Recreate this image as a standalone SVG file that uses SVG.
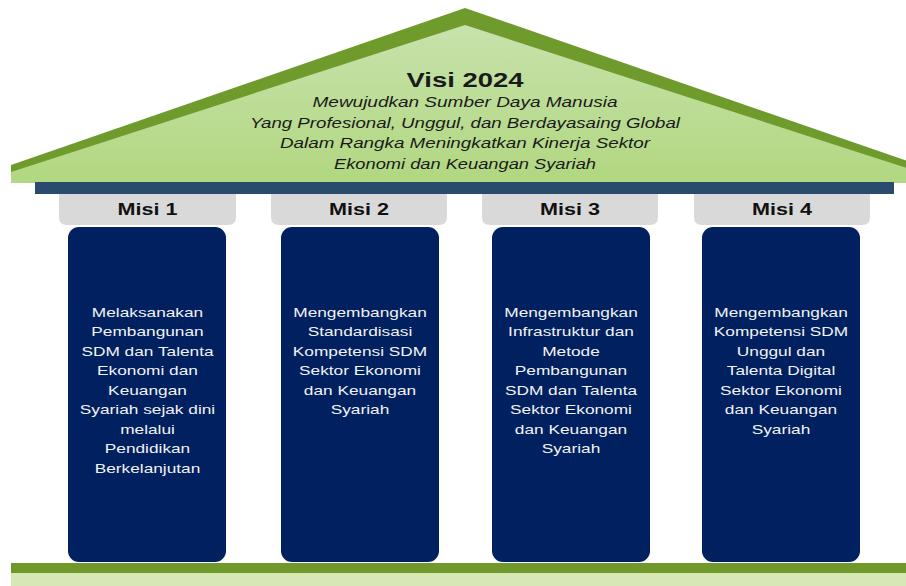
<svg xmlns="http://www.w3.org/2000/svg" width="906" height="586" viewBox="0 0 906 586">
<defs>
<linearGradient id="roofFill" x1="0" y1="0" x2="0" y2="1">
<stop offset="0" stop-color="#C8E2AC"/>
<stop offset="1" stop-color="#B1D780"/>
</linearGradient>
</defs>
<style>
.vt{font-family:"Liberation Sans",Arial,sans-serif;fill:#1a1a1a;text-anchor:middle}
.vh{font-size:20px;font-weight:bold}
.vi{font-size:15px;font-style:italic}
.cap{fill:#D9D9D9}
.pil{fill:#002060}
.ml{font-family:"Liberation Sans",Arial,sans-serif;font-size:17px;font-weight:bold;fill:#111;text-anchor:middle}
.pt{font-family:"Liberation Sans",Arial,sans-serif;font-size:13px;fill:#F2F2F2;text-anchor:middle}
</style>
<rect width="906" height="586" fill="#FFFFFF"/>
<g id="roof">
<polygon points="11,165 465,8 919,165 919,183 11,183" fill="#6F9A2C"/>
<polygon points="11,172 465,25 919,172 919,183 11,183" fill="url(#roofFill)"/>
<text class="vt vh" x="465" y="87" textLength="117" lengthAdjust="spacingAndGlyphs">Visi 2024</text>
<text class="vt vi" x="465" y="107" textLength="305" lengthAdjust="spacingAndGlyphs">Mewujudkan Sumber Daya Manusia</text>
<text class="vt vi" x="465" y="128" textLength="430" lengthAdjust="spacingAndGlyphs">Yang Profesional, Unggul, dan Berdayasaing Global</text>
<text class="vt vi" x="465" y="148" textLength="370" lengthAdjust="spacingAndGlyphs">Dalam Rangka Meningkatkan Kinerja Sektor</text>
<text class="vt vi" x="465" y="169" textLength="262" lengthAdjust="spacingAndGlyphs">Ekonomi dan Keuangan Syariah</text>
</g>
<g id="beam">
<rect x="35" y="182" width="859" height="12" fill="#2A4A6E"/>
</g>
<g id="misi1">
<path class="cap" d="M59,194 H236 V217 Q236,225 228,225 H67 Q59,225 59,217 Z"/>
<text class="ml" x="147.5" y="215" textLength="60" lengthAdjust="spacingAndGlyphs">Misi 1</text>
<rect class="pil" x="68" y="227" width="158" height="335" rx="11"/>
<g transform="translate(147.5 0) scale(1.33 1)">
<text class="pt" x="0" y="317">Melaksanakan</text>
<text class="pt" x="0" y="336.5">Pembangunan</text>
<text class="pt" x="0" y="356">SDM dan Talenta</text>
<text class="pt" x="0" y="375.5">Ekonomi dan</text>
<text class="pt" x="0" y="395">Keuangan</text>
<text class="pt" x="0" y="414.5">Syariah sejak dini</text>
<text class="pt" x="0" y="434">melalui</text>
<text class="pt" x="0" y="453.5">Pendidikan</text>
<text class="pt" x="0" y="473">Berkelanjutan</text>
</g>
</g>
<g id="misi2">
<path class="cap" d="M271,194 H447 V217 Q447,225 439,225 H279 Q271,225 271,217 Z"/>
<text class="ml" x="359" y="215" textLength="60" lengthAdjust="spacingAndGlyphs">Misi 2</text>
<rect class="pil" x="281" y="227" width="158" height="335" rx="11"/>
<g transform="translate(360 0) scale(1.33 1)">
<text class="pt" x="0" y="317">Mengembangkan</text>
<text class="pt" x="0" y="336.5">Standardisasi</text>
<text class="pt" x="0" y="356">Kompetensi SDM</text>
<text class="pt" x="0" y="375.5">Sektor Ekonomi</text>
<text class="pt" x="0" y="395">dan Keuangan</text>
<text class="pt" x="0" y="414.5">Syariah</text>
</g>
</g>
<g id="misi3">
<path class="cap" d="M482,194 H658 V217 Q658,225 650,225 H490 Q482,225 482,217 Z"/>
<text class="ml" x="570" y="215" textLength="60" lengthAdjust="spacingAndGlyphs">Misi 3</text>
<rect class="pil" x="492" y="227" width="158" height="335" rx="11"/>
<g transform="translate(571 0) scale(1.33 1)">
<text class="pt" x="0" y="317">Mengembangkan</text>
<text class="pt" x="0" y="336.5">Infrastruktur dan</text>
<text class="pt" x="0" y="356">Metode</text>
<text class="pt" x="0" y="375.5">Pembangunan</text>
<text class="pt" x="0" y="395">SDM dan Talenta</text>
<text class="pt" x="0" y="414.5">Sektor Ekonomi</text>
<text class="pt" x="0" y="434">dan Keuangan</text>
<text class="pt" x="0" y="453.5">Syariah</text>
</g>
</g>
<g id="misi4">
<path class="cap" d="M694,194 H870 V217 Q870,225 862,225 H702 Q694,225 694,217 Z"/>
<text class="ml" x="782" y="215" textLength="60" lengthAdjust="spacingAndGlyphs">Misi 4</text>
<rect class="pil" x="702" y="227" width="158" height="335" rx="11"/>
<g transform="translate(781 0) scale(1.33 1)">
<text class="pt" x="0" y="317">Mengembangkan</text>
<text class="pt" x="0" y="336.5">Kompetensi SDM</text>
<text class="pt" x="0" y="356">Unggul dan</text>
<text class="pt" x="0" y="375.5">Talenta Digital</text>
<text class="pt" x="0" y="395">Sektor Ekonomi</text>
<text class="pt" x="0" y="414.5">dan Keuangan</text>
<text class="pt" x="0" y="434">Syariah</text>
</g>
</g>
<g id="base">
<rect x="11" y="563" width="895" height="10" fill="#71982B"/>
<rect x="11" y="573" width="895" height="13" fill="#D6E8B4"/>
</g>
</svg>
